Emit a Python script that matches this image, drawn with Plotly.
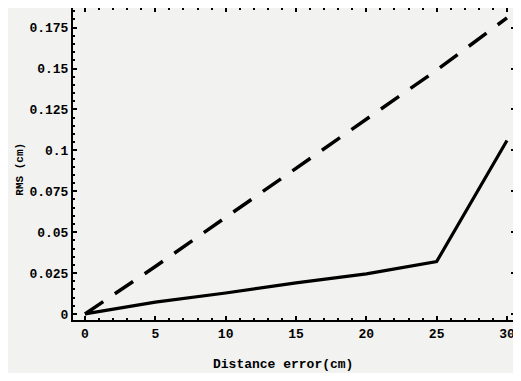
import plotly.graph_objects as go

distance = [0, 5, 10, 15, 20, 25, 30]
rms_solid = [0.0, 0.0072, 0.0128, 0.019, 0.0245, 0.032, 0.106]
rms_dashed = [0.0, 0.029, 0.059, 0.089, 0.119, 0.149, 0.181]
x_ticks = [0, 5, 10, 15, 20, 25, 30]
y_ticks = [0, 0.025, 0.05, 0.075, 0.1, 0.125, 0.15, 0.175]
y_labels = ["0", "0.025", "0.05", "0.075", "0.1", "0.125", "0.15", "0.175"]

FONT = "Liberation Mono"
bg = "#f2f2f0"

fig = go.Figure()
fig.add_trace(go.Scatter(x=distance, y=rms_dashed, mode="lines",
                         line=dict(color="black", width=3.5, dash="22px,14px"),
                         showlegend=False))
fig.add_trace(go.Scatter(x=distance, y=rms_solid, mode="lines",
                         line=dict(color="black", width=3.2),
                         showlegend=False))

axis_common = dict(showgrid=False, zeroline=False, showline=True, linecolor="black",
                   linewidth=2, mirror="allticks", ticks="inside", tickcolor="black",
                   ticklen=4, tickwidth=1.5, automargin=False,
                   tickfont=dict(family=FONT, size=13, color="black", weight="bold"))

fig.update_xaxes(range=[-0.853, 30.57], tickvals=x_ticks,
                 minor=dict(dtick=1, ticks="inside", ticklen=2, tickcolor="black"),
                 **axis_common)
fig.update_yaxes(range=[-0.0037, 0.187], tickvals=y_ticks, ticktext=y_labels,
                 minor=dict(dtick=0.005, ticks="inside", ticklen=2, tickcolor="black"),
                 **axis_common)

fig.add_annotation(text="<b>Distance error(cm)</b>", xref="paper", yref="paper",
                   x=0.474, y=-0.144, xanchor="center", yanchor="middle",
                   showarrow=False, font=dict(family=FONT, size=13, color="black"))
fig.add_annotation(text="<b>RMS (cm)</b>", xref="paper", yref="paper",
                   x=-0.12, y=0.485, xanchor="center", yanchor="middle", textangle=-90,
                   showarrow=False, font=dict(family=FONT, size=11, color="black"))

fig.update_layout(width=508, height=365, margin=dict(l=65, r=1, t=0, b=53),
                  paper_bgcolor=bg, plot_bgcolor=bg)
fig.write_html("out.html")
